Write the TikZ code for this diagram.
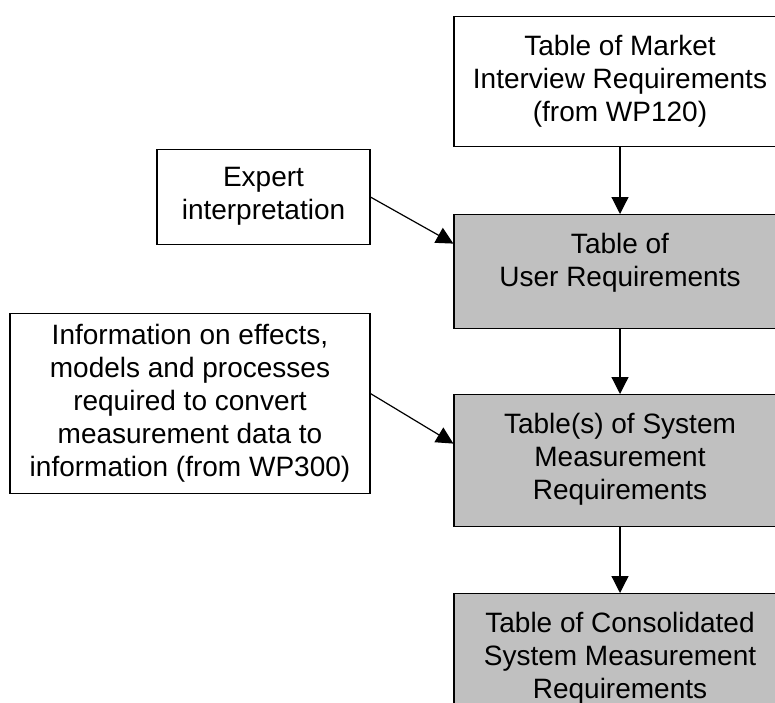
\documentclass[tikz,border=0pt]{standalone}
\usepackage{fontspec}
\setmainfont{Liberation Sans}
\usetikzlibrary{arrows.meta}
\definecolor{reqgray}{RGB}{192,192,192}

\begin{document}
\begin{tikzpicture}[x=1pt,y=-1pt,
		inbox/.style={draw,line width=1.2pt,align=center,inner sep=0pt,
			font=\fontsize{28}{33}\selectfont},
		reqbox/.style={inbox,fill=reqgray,minimum width=332pt},
		link/.style={-{Triangle[length=17pt,width=17pt]},line width=1.2pt}]
		\useasboundingbox (0,0) rectangle (775,702);
		\clip (0,0) rectangle (775,702);
		% right column
		\node[inbox,minimum width=332pt,text height=105pt,text depth=25pt,anchor=north] (market) at (620,16)
			{Table of Market\\Interview Requirements\\(from WP120)};
		\node[reqbox,text height=72pt,text depth=42pt,anchor=north] (user) at (620,214)
			{Table of\\User Requirements};
		\node[reqbox,text height=105pt,text depth=27pt,anchor=north] (sys) at (620,394)
			{Table(s) of System\\Measurement\\Requirements};
		\node[reqbox,text height=105pt,text depth=27pt,anchor=north] (cons) at (620,593)
			{Table of Consolidated\\System Measurement\\Requirements};
		% left inputs
		\node[inbox,minimum width=213pt,text height=70pt,text depth=25pt,anchor=north] (expert) at (263.5,149)
			{Expert\\interpretation};
		\node[inbox,minimum width=360pt,text height=163pt,text depth=17pt,anchor=north] (info) at (190,313)
			{Information on effects,\\models and processes\\required to convert\\measurement data to\\information (from WP300)};
		\draw[link] (market) -- (user);
		\draw[link] (user) -- (sys);
		\draw[link] (sys) -- (cons);
		\draw[link] (expert.east) -- ([yshift=28pt]user.west);
		\draw[link] ([yshift=10pt]info.east) -- ([yshift=17pt]sys.west);
\end{tikzpicture}
\end{document}
